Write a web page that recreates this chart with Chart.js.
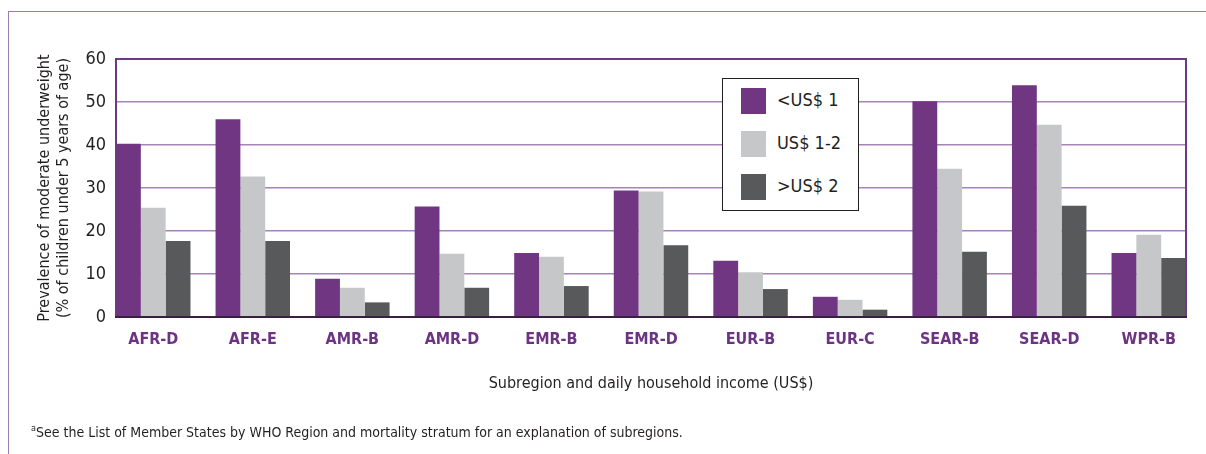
<!DOCTYPE html>
<html>
<head>
<meta charset="utf-8">
<script src="https://cdn.jsdelivr.net/npm/chart.js@4"></script>
<style>
  body { margin: 0; background: #fff; }
  #page { position: relative; width: 1206px; height: 454px; overflow: hidden; font-family: "Liberation Sans Narrow", "DejaVu Sans Condensed", sans-serif; color: #231f20; }
  #frame { position: absolute; left: 8px; top: 11px; right: -2px; bottom: -2px; border-top: 1px solid #9c7cad; border-left: 1px solid #9c7cad; }
  #chart { position: absolute; left: 0; top: 0; }
  #legend { position: absolute; left: 722px; top: 78px; width: 135px; height: 131px; border: 1.5px solid #231f20; background: #fff; }
  .item { position: absolute; left: 18px; height: 26px; }
  .swatch { position: absolute; left: 0; top: 0; width: 25px; height: 26px; }
  .label { position: absolute; left: 36px; top: -1px; line-height: 26px; font-size: 18px; white-space: nowrap; }
  #note { position: absolute; left: 31px; top: 423px; font-size: 14px; white-space: nowrap; }
  #note sup { font-size: 9px; vertical-align: 6px; }
</style>
</head>
<body>
<div id="page">
  <div id="frame"></div>
  <canvas id="chart" width="1206" height="454"></canvas>
  <div id="legend"></div>
  <div id="note"><sup>a</sup>See the List of Member States by WHO Region and mortality stratum for an explanation of subregions.</div>
</div>
<script>
  // Chart data
  const categories = ['AFR-D', 'AFR-E', 'AMR-B', 'AMR-D', 'EMR-B', 'EMR-D', 'EUR-B', 'EUR-C', 'SEAR-B', 'SEAR-D', 'WPR-B'];
  const seriesLabels = ['<US$ 1', 'US$ 1-2', '>US$ 2'];
  const underOne = [40.3, 46.0, 8.9, 25.7, 14.9, 29.4, 13.1, 4.7, 50.2, 53.9, 14.9];
  const oneToTwo = [25.4, 32.7, 6.8, 14.7, 14.0, 29.2, 10.4, 4.0, 34.5, 44.7, 19.1];
  const overTwo = [17.7, 17.7, 3.4, 6.8, 7.2, 16.7, 6.5, 1.7, 15.2, 25.9, 13.7];
  const yTicks = [0, 10, 20, 30, 40, 50, 60];
  const seriesColors = ['#713682', '#c6c7c9', '#58595b'];

  const fontFamily = '"Liberation Sans Narrow", "DejaVu Sans Condensed", sans-serif';

  // Draws the plot frame over the gridlines
  const plotFrame = {
    id: 'plotFrame',
    afterDatasetsDraw(chart) {
      const { ctx, chartArea: a } = chart;
      ctx.save();
      ctx.lineWidth = 2;
      ctx.strokeStyle = '#6c3a80';
      ctx.beginPath();
      ctx.moveTo(a.left, a.bottom);
      ctx.lineTo(a.left, a.top);
      ctx.lineTo(a.right, a.top);
      ctx.lineTo(a.right, a.bottom);
      ctx.stroke();
      ctx.strokeStyle = '#3b1f43';
      ctx.beginPath();
      ctx.moveTo(a.left - 1, a.bottom);
      ctx.lineTo(a.right + 1, a.bottom);
      ctx.stroke();
      ctx.restore();
    }
  };

  const series = [underOne, oneToTwo, overTwo];

  new Chart(document.getElementById('chart'), {
    type: 'bar',
    data: {
      datasets: series.map((values, s) => ({
        label: seriesLabels[s],
        data: values.map((v, i) => ({ x: i, y: v })),
        backgroundColor: seriesColors[s],
        borderWidth: 0,
        categoryPercentage: 0.748,
        barPercentage: 1
      }))
    },
    options: {
      responsive: false,
      animation: false,
      layout: { padding: { left: 0, top: 59, right: 20, bottom: 57 } },
      plugins: { legend: { display: false }, tooltip: { enabled: false } },
      scales: {
        x: {
          type: 'linear',
          min: -0.374,
          max: 10.374,
          offset: false,
          grid: { display: false, offset: false },
          border: { display: false },
          afterBuildTicks: axis => { axis.ticks = categories.map((c, i) => ({ value: i })); },
          afterFit: axis => { axis.height = 80; },
          ticks: {
            padding: 5,
            color: '#6b3382',
            font: { family: fontFamily, size: 16, weight: 'bold' },
            callback: value => categories[value]
          },
          title: {
            display: true,
            text: 'Subregion and daily household income (US$)',
            color: '#231f20',
            font: { family: fontFamily, size: 16 },
            padding: { top: 0, bottom: 4 }
          }
        },
        y: {
          min: 0,
          max: 60,
          afterBuildTicks: axis => { axis.ticks = yTicks.map(v => ({ value: v })); },
          afterFit: axis => { axis.width = 116; },
          grid: { color: '#a783b9', lineWidth: 1.5, drawTicks: false },
          border: { display: false },
          ticks: {
            padding: 10,
            color: '#231f20',
            font: { family: fontFamily, size: 18 }
          },
          title: {
            display: true,
            text: ['Prevalence of moderate underweight', '(% of children under 5 years of age)'],
            color: '#231f20',
            font: { family: fontFamily, size: 16, lineHeight: 1.2 },
            padding: { top: 35, bottom: 0 }
          }
        }
      }
    },
    plugins: [plotFrame]
  });

  // Build legend box
  const legend = document.getElementById('legend');
  seriesLabels.forEach((label, s) => {
    const item = document.createElement('div');
    item.className = 'item';
    item.style.top = (9 + s * 43) + 'px';
    item.innerHTML = '<div class="swatch"></div><div class="label"></div>';
    item.querySelector('.swatch').style.background = seriesColors[s];
    item.querySelector('.label').textContent = label;
    legend.appendChild(item);
  });
</script>
</body>
</html>
